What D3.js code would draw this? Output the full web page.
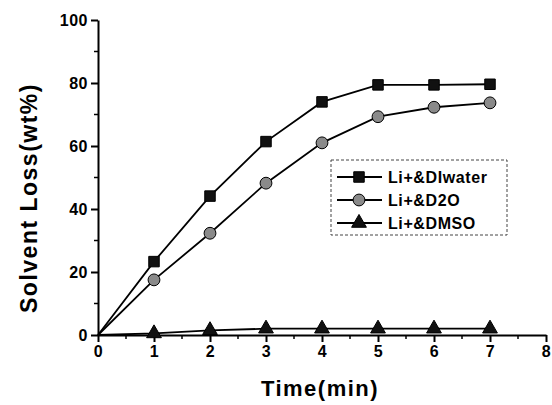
<!DOCTYPE html>
<html>
<head>
<meta charset="utf-8">
<script src="https://cdn.jsdelivr.net/npm/d3@7"></script>
<style>
    body { margin: 0; background: #fff; }
    svg { font-family: Arial, "Liberation Sans", sans-serif; }
    .axis path, .axis line { stroke: #000; stroke-width: 2; }
    .axis text { font-size: 16px; font-weight: bold; fill: #000; letter-spacing: 0.5px; }
</style>
</head>
<body>
<svg width="552" height="405"></svg>
<script>
let times = [0, 1, 2, 3, 4, 5, 6, 7];
let diwater = [0, 23.3, 44.1, 61.4, 74, 79.4, 79.4, 79.6];
let d2o = [0, 17.5, 32.3, 48.2, 61, 69.3, 72.3, 73.7];
let dmso = [0, 0.5, 1.5, 2, 2, 2, 2, 2];
let seriesNames = ['Li+&DIwater', 'Li+&D2O', 'Li+&DMSO'];
let xTicks = [0, 1, 2, 3, 4, 5, 6, 7, 8];
let yTicks = [0, 20, 40, 60, 80, 100];

let svg = d3.select('svg'),
    x = d3.scaleLinear().domain([0, 8]).range([98, 546]),
    y = d3.scaleLinear().domain([0, 100]).range([335, 20]);

// minor ticks
svg.append('g').selectAll('line').data(d3.range(0.5, 8, 1)).enter().append('line')
    .attr('x1', d => x(d)).attr('x2', d => x(d))
    .attr('y1', 335).attr('y2', 339)
    .attr('stroke', '#000').attr('stroke-width', 1.5);
svg.append('g').selectAll('line').data(d3.range(10, 100, 20)).enter().append('line')
    .attr('x1', 94).attr('x2', 98)
    .attr('y1', d => y(d)).attr('y2', d => y(d))
    .attr('stroke', '#000').attr('stroke-width', 1.5);

svg.append('g')
    .attr('class', 'axis')
    .attr('transform', 'translate(0, 335)')
    .call(d3.axisBottom(x).tickValues(xTicks).tickSize(7).tickSizeOuter(0).tickPadding(4));
svg.append('g')
    .attr('class', 'axis')
    .attr('transform', 'translate(98, 0)')
    .call(d3.axisLeft(y).tickValues(yTicks).tickSize(7).tickSizeOuter(0).tickPadding(3));

svg.append('text')
    .attr('x', 320).attr('y', 396)
    .attr('text-anchor', 'middle')
    .attr('font-size', 22).attr('font-weight', 'bold')
    .attr('letter-spacing', '1.5px')
    .text('Time(min)');
svg.append('text')
    .attr('transform', 'translate(37, 198) rotate(-90)')
    .attr('text-anchor', 'middle')
    .attr('font-size', 23).attr('font-weight', 'bold')
    .attr('letter-spacing', '1.5px')
    .text('Solvent Loss(wt%)');

let series = [
    {name: seriesNames[0], values: diwater, shape: 'square', fill: '#111'},
    {name: seriesNames[1], values: d2o, shape: 'circle', fill: '#8a8a8a'},
    {name: seriesNames[2], values: dmso, shape: 'triangle', fill: '#111'}
];
let symbols = {square: d3.symbolSquare, circle: d3.symbolCircle, triangle: d3.symbolTriangle};

let line = d3.line()
    .x((d, i) => x(times[i]))
    .y(d => y(d));

series.forEach(function(s) {
    let g = svg.append('g');
    g.append('path')
        .attr('d', line(s.values))
        .attr('fill', 'none')
        .attr('stroke', '#000')
        .attr('stroke-width', 1.8);
    g.selectAll('path.pt').data(s.values.slice(1)).enter().append('path')
        .attr('class', 'pt')
        .attr('transform', (d, i) => `translate(${x(times[i+1])}, ${y(d)})`)
        .attr('d', d3.symbol().type(symbols[s.shape]).size(s.shape === 'triangle' ? 95 : 110))
        .attr('fill', s.fill)
        .attr('stroke', '#000')
        .attr('stroke-width', 1);
});

// legend
let legend = svg.append('g');
legend.append('rect')
    .attr('x', 331).attr('y', 160).attr('width', 176).attr('height', 75)
    .attr('fill', '#fff').attr('stroke', '#444').attr('stroke-width', 1)
    .attr('stroke-dasharray', '3,2');
series.forEach(function(s, i) {
    let ly = 177 + i * 23;
    legend.append('line')
        .attr('x1', 337).attr('x2', 382).attr('y1', ly).attr('y2', ly)
        .attr('stroke', '#000').attr('stroke-width', 1.8);
    legend.append('path')
        .attr('transform', `translate(359, ${ly})`)
        .attr('d', d3.symbol().type(symbols[s.shape]).size(s.shape === 'triangle' ? 95 : 110))
        .attr('fill', s.fill).attr('stroke', '#000').attr('stroke-width', 1);
    legend.append('text')
        .attr('x', 388).attr('y', ly + 6)
        .attr('font-size', 16).attr('font-weight', 'bold')
        .attr('letter-spacing', '0.6px')
        .text(s.name);
});
</script>
</body>
</html>
